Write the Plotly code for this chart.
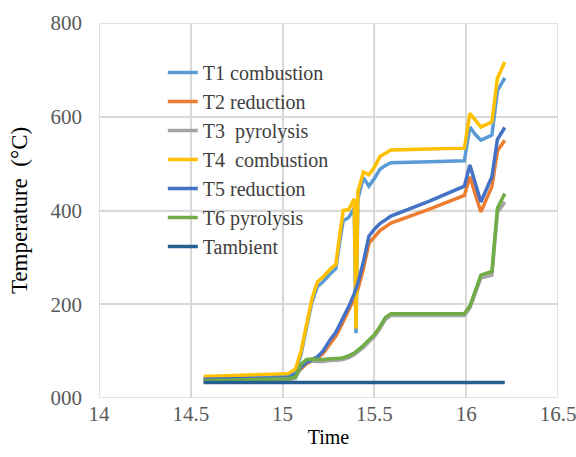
import plotly.graph_objects as go

# Logged gasifier temperatures against time
time = [14.57, 14.80, 15.03, 15.07, 15.10, 15.13, 15.16, 15.19, 15.22, 15.26,
        15.29, 15.31, 15.33, 15.36, 15.39, 15.40, 15.41, 15.44, 15.47, 15.50,
        15.53, 15.56, 15.59, 15.80, 15.99, 16.02, 16.05, 16.08, 16.14, 16.17, 16.21]

t1_combustion = [42, 45, 48, 57, 92, 150, 205, 238, 248, 265,
                 276, 330, 378, 385, 405, 138, 425, 470, 452, 468,
                 488, 496, 502, 504, 506, 578, 562, 550, 561, 655, 683]
t2_reduction = [38, 40, 42, 48, 62, 73, 79, 85, 95, 118,
                132, 147, 163, 185, 210, 220, 232, 275, 330, 345,
                357, 365, 373, 403, 432, 472, 432, 397, 451, 527, 550]
t3_pyrolysis = [35, 37, 39, 42, 68, 78, 79, 78, 78, 80,
                80, 81, 82, 86, 92, 95, 99, 108, 120, 131,
                148, 168, 176, 176, 176, 192, 225, 256, 262, 395, 418]
t4_combustion = [46, 49, 52, 62, 99, 156, 212, 248, 258, 275,
                 285, 345, 400, 402, 425, 148, 440, 482, 476, 492,
                 515, 522, 529, 531, 533, 607, 592, 578, 589, 682, 717]
t5_reduction = [40, 41, 43, 50, 65, 76, 82, 88, 100, 125,
                140, 155, 172, 195, 222, 232, 245, 290, 345, 360,
                372, 380, 388, 420, 452, 497, 455, 418, 472, 552, 577]
t6_pyrolysis = [37, 39, 41, 45, 72, 82, 83, 82, 82, 84,
                84, 85, 86, 90, 96, 99, 103, 112, 124, 135,
                152, 172, 180, 180, 180, 196, 230, 262, 270, 405, 436]
t_ambient = [33] * len(time)

series_names = ["T1 combustion", "T2 reduction", "T3\u00a0 pyrolysis",
                "T4\u00a0 combustion", "T5 reduction", "T6 pyrolysis", "Tambient"]
series_values = [t1_combustion, t2_reduction, t3_pyrolysis, t4_combustion,
                 t5_reduction, t6_pyrolysis, t_ambient]
series_colors = ["#5B9BD5", "#ED7D31", "#A5A5A5", "#FFC000",
                 "#4472C4", "#70AD47", "#255E91"]

x_tick_values = [14, 14.5, 15, 15.5, 16, 16.5]
x_tick_labels = ["14", "14.5", "15", "15.5", "16", "16.5"]
y_tick_values = [0, 200, 400, 600, 800]
y_tick_labels = ["000", "200", "400", "600", "800"]

SERIF = "Liberation Serif"
GRID = "#d9d9d9"

fig = go.Figure()
for name, vals, col in zip(series_names, series_values, series_colors):
    fig.add_trace(go.Scatter(
        x=time, y=vals, mode="lines", name=name,
        line=dict(color=col, width=3.5),
    ))

# Gridlines (which also close the plot frame) drawn beneath the traces
for xv in x_tick_values:
    fig.add_shape(type="line", xref="x", yref="paper", x0=xv, x1=xv, y0=0, y1=1,
                  line=dict(color=GRID, width=1.5), layer="below")
for yv in y_tick_values:
    fig.add_shape(type="line", xref="paper", yref="y", x0=0, x1=1, y0=yv, y1=yv,
                  line=dict(color=GRID, width=1.5), layer="below")

fig.update_layout(
    width=576, height=457,
    margin=dict(l=99, r=18, t=23, b=59, autoexpand=False),
    paper_bgcolor="white", plot_bgcolor="white",
    font=dict(family=SERIF, size=21, color="#595959"),
    showlegend=True,
    legend=dict(
        x=0.139, y=0.92, xanchor="left", yanchor="top",
        bgcolor="rgba(0,0,0,0)", borderwidth=0,
        font=dict(family=SERIF, size=20, color="#404040"),
        tracegroupgap=0,
    ),
    xaxis=dict(
        range=[14, 16.5], tickvals=x_tick_values, ticktext=x_tick_labels,
        showgrid=True, gridcolor=GRID, gridwidth=1.5,
        showline=False, zeroline=False,
        ticklabeloverflow="allow", automargin=False,
        ticks="", ticklabelstandoff=1,
        tickfont=dict(family=SERIF, size=21, color="#595959"),
        title=dict(text="Time", font=dict(family=SERIF, size=20, color="black"), standoff=4),
    ),
    yaxis=dict(
        range=[0, 800], tickvals=y_tick_values, ticktext=y_tick_labels,
        showgrid=True, gridcolor=GRID, gridwidth=1.5,
        showline=False, zeroline=False, automargin=False,
        ticks="", ticklabelstandoff=16,
        tickfont=dict(family=SERIF, size=21, color="#595959"),
        title=dict(text="Temperature\u00a0 (°C)", font=dict(family=SERIF, size=23, color="black"), standoff=16),
    ),
)

fig.write_html("out.html")
